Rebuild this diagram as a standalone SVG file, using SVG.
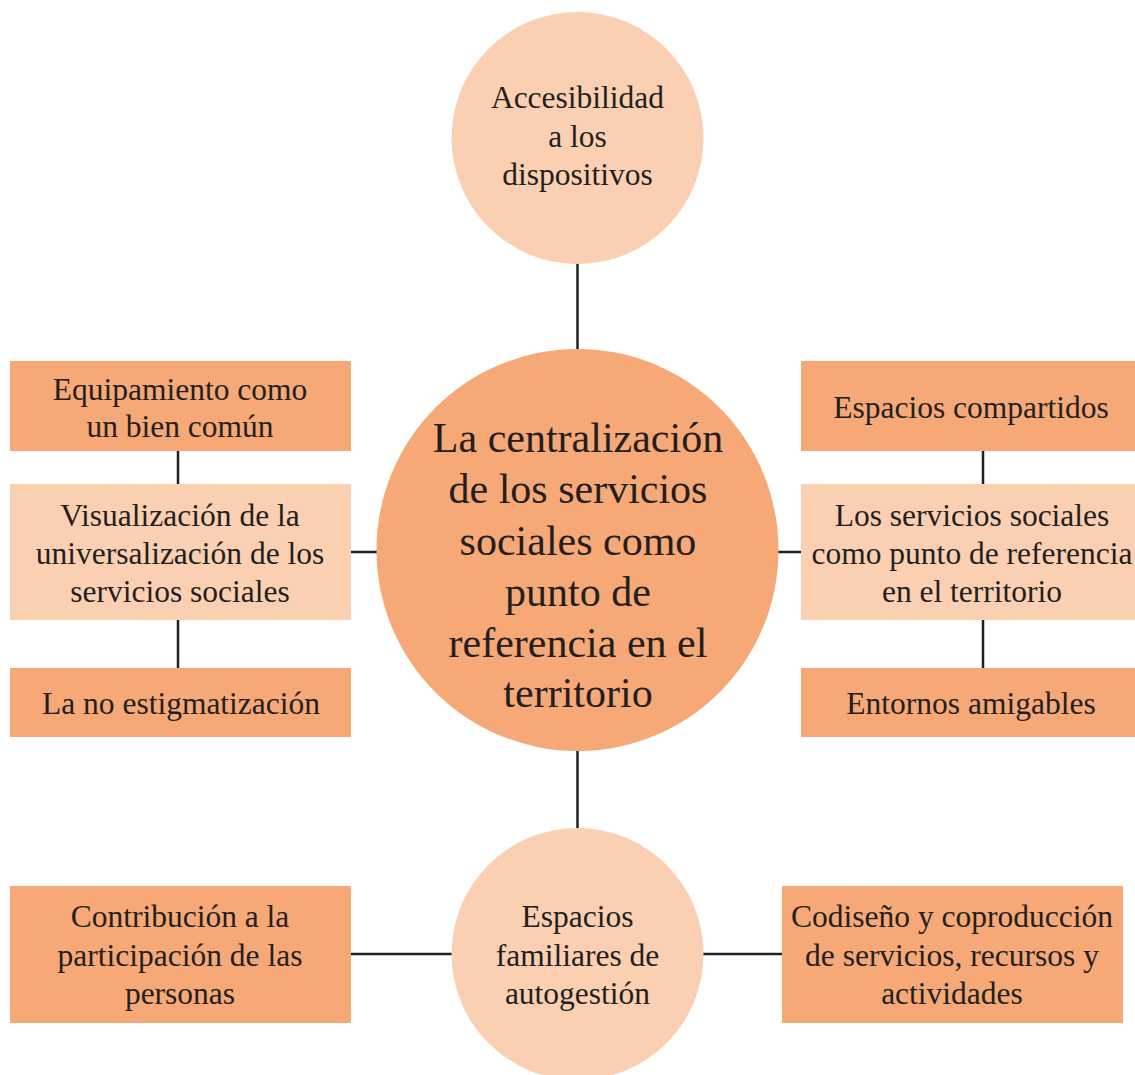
<svg xmlns="http://www.w3.org/2000/svg" width="1135" height="1075" viewBox="0 0 1135 1075">
<style>
.dark{fill:#F6A877}
.light{fill:#FBD0B2}
.t{font-family:"Liberation Serif","Times New Roman",serif;font-size:31.5px;fill:#231F20;text-anchor:middle}
.tc{font-family:"Liberation Serif","Times New Roman",serif;font-size:42px;fill:#231F20;text-anchor:middle}
.ln{stroke:#231F20;stroke-width:2.5;fill:none}
</style>
<rect width="1135" height="1075" fill="#ffffff"/>
<g id="connectors">
<line class="ln" x1="577.5" y1="263" x2="577.5" y2="350"/>
<line class="ln" x1="577.5" y1="750" x2="577.5" y2="830"/>
<line class="ln" x1="178" y1="451" x2="178" y2="484"/>
<line class="ln" x1="178" y1="620" x2="178" y2="668"/>
<line class="ln" x1="983" y1="451" x2="983" y2="484"/>
<line class="ln" x1="983" y1="620" x2="983" y2="668"/>
<line class="ln" x1="351" y1="552" x2="380" y2="552"/>
<line class="ln" x1="776" y1="552" x2="801" y2="552"/>
<line class="ln" x1="351" y1="954" x2="452" y2="954"/>
<line class="ln" x1="703" y1="954" x2="782" y2="954"/>
</g>
<g id="top">
<circle class="light" cx="577.5" cy="138" r="126"/>
<text class="t" x="577.5" y="108">Accesibilidad</text>
<text class="t" x="577.5" y="147">a los</text>
<text class="t" x="577.5" y="185">dispositivos</text>
</g>
<g id="center">
<circle class="dark" cx="577.5" cy="550" r="201"/>
<text class="tc" x="578" y="452">La centralización</text>
<text class="tc" x="578" y="503">de los servicios</text>
<text class="tc" x="578" y="555">sociales como</text>
<text class="tc" x="578" y="606">punto de</text>
<text class="tc" x="578" y="657">referencia en el</text>
<text class="tc" x="578" y="707">territorio</text>
</g>
<g id="left1">
<rect class="dark" x="10" y="361" width="341" height="90"/>
<text class="t" x="180" y="400">Equipamiento como</text>
<text class="t" x="180" y="437">un bien común</text>
</g>
<g id="left2">
<rect class="light" x="10" y="484" width="341" height="136"/>
<text class="t" x="180" y="526">Visualización de la</text>
<text class="t" x="180" y="564">universalización de los</text>
<text class="t" x="180" y="602">servicios sociales</text>
</g>
<g id="left3">
<rect class="dark" x="10" y="668" width="341" height="69"/>
<text class="t" x="181" y="714">La no estigmatización</text>
</g>
<g id="right1">
<rect class="dark" x="801" y="361" width="334" height="90"/>
<text class="t" x="971" y="418">Espacios compartidos</text>
</g>
<g id="right2">
<rect class="light" x="801" y="484" width="334" height="136"/>
<text class="t" x="972" y="526">Los servicios sociales</text>
<text class="t" x="972" y="564">como punto de referencia</text>
<text class="t" x="972" y="602">en el territorio</text>
</g>
<g id="right3">
<rect class="dark" x="801" y="668" width="334" height="69"/>
<text class="t" x="971" y="714">Entornos amigables</text>
</g>
<g id="bottom">
<circle class="light" cx="577.5" cy="954" r="126"/>
<text class="t" x="577.5" y="927">Espacios</text>
<text class="t" x="577.5" y="966">familiares de</text>
<text class="t" x="577.5" y="1004">autogestión</text>
</g>
<g id="bottomleft">
<rect class="dark" x="10" y="886" width="341" height="137"/>
<text class="t" x="180" y="927">Contribución a la</text>
<text class="t" x="180" y="966">participación de las</text>
<text class="t" x="180" y="1004">personas</text>
</g>
<g id="bottomright">
<rect class="dark" x="782" y="886" width="341" height="137"/>
<text class="t" x="952" y="927">Codiseño y coproducción</text>
<text class="t" x="952" y="966">de servicios, recursos y</text>
<text class="t" x="952" y="1004">actividades</text>
</g>
</svg>
